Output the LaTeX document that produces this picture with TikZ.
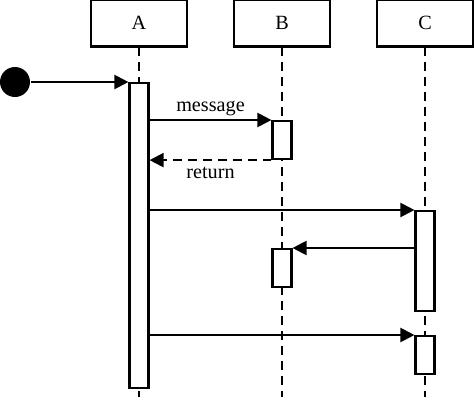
\documentclass[tikz,border=0pt]{standalone}
\usepackage{fontspec}
\setmainfont{Liberation Serif}
\usetikzlibrary{arrows.meta}
\begin{document}
\begin{tikzpicture} [x = 0.02cm, y = -0.02cm, line width = 1.2pt, font = \fontsize{11.5}{13}\selectfont,
    objekt/.style = {draw, minimum width = 1.92cm, minimum height = 0.94cm, inner sep = 0},
    lebenslinie/.style = {dash pattern = on 5pt off 3.5pt},
    aktiv/.style = {draw, fill = white, anchor = north, minimum width = 0.38cm, inner sep = 0},
    nachricht/.style = {-{Triangle[length = 8pt, width = 8pt]}},
    antwort/.style = {nachricht, dash pattern = on 5pt off 3.5pt}]
            \useasboundingbox (0, 0) rectangle (474, 407);

            % Objekte
            \node [objekt] (A) at (139, 23) {A};
            \node [objekt] (B) at (282, 23) {B};
            \node [objekt] (C) at (425, 23) {C};
            \coordinate (ende) at (0, 397);

            % Lebenslinien
            \draw[lebenslinie] (A.south) -- (A.south |- ende);
            \draw[lebenslinie] (B.south) -- (B.south |- ende);
            \draw[lebenslinie] (C.south) -- (C.south |- ende);

            % Aktivierungen
            \node [aktiv, minimum height = 6.1cm]  (a1) at (139, 82)  {};
            \node [aktiv, minimum height = 0.76cm] (b1) at (282, 120) {};
            \node [aktiv, minimum height = 2cm]    (c1) at (425, 210) {};
            \node [aktiv, minimum height = 0.76cm] (b2) at (282, 248) {};
            \node [aktiv, minimum height = 0.76cm] (c2) at (425, 335) {};

            % Startpunkt
            \node [circle, fill, minimum size = 0.6cm, inner sep = 0] (start) at (15, 82) {};
            \draw[nachricht] (start) -- (a1.north west);

            % Nachrichten
            \draw[nachricht] (a1.east |- b1.north) -- (b1.north west) node [midway, above, inner sep = 1.5pt] {message};
            \draw[antwort] (b1.south west) -- (a1.east |- b1.south) node [midway, below] {return};
            \draw[nachricht] (a1.east |- c1.north) -- (c1.north west);
            \draw[nachricht] (c1.west |- b2.north) -- (b2.north east);
            \draw[nachricht] (a1.east |- c2.north) -- (c2.north west);
        \end{tikzpicture}
\end{document}
